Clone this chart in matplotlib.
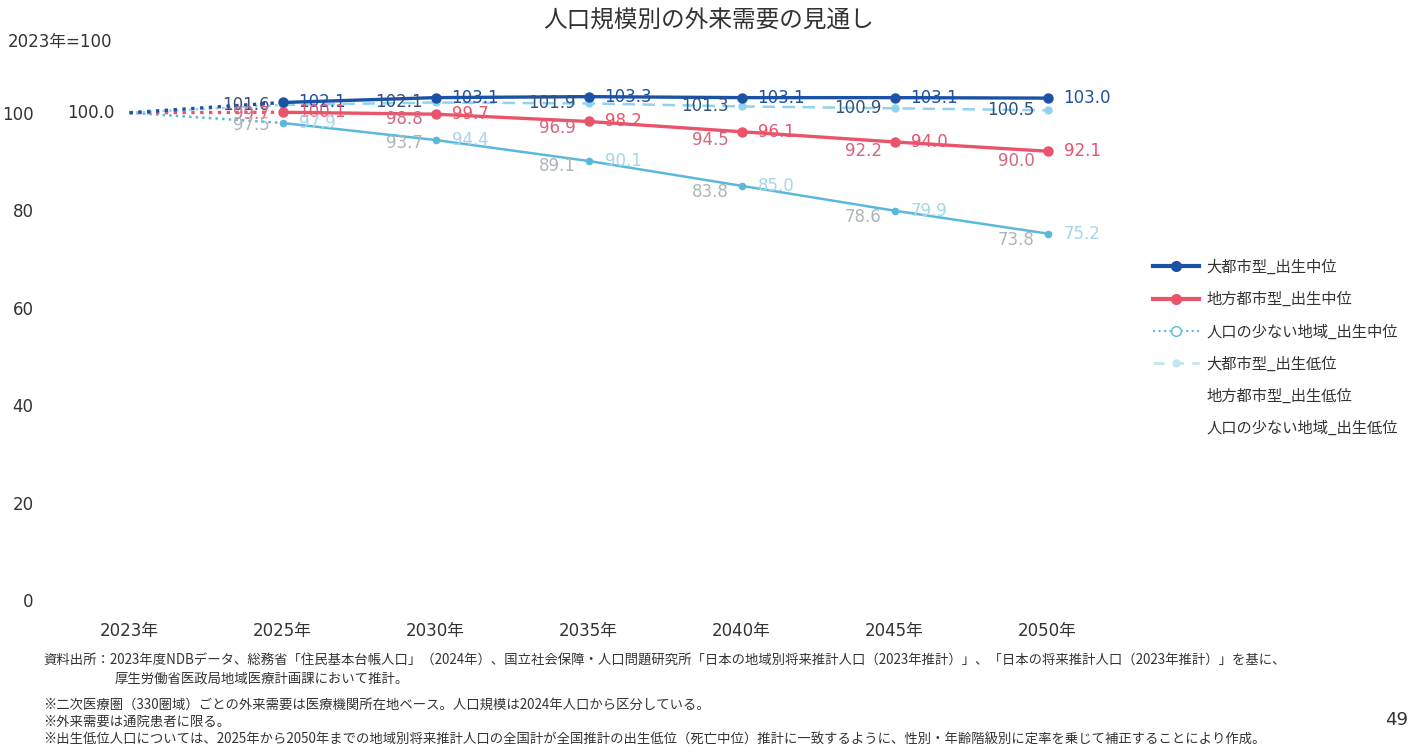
import matplotlib
matplotlib.use("Agg")
import matplotlib.pyplot as plt
from matplotlib.lines import Line2D
from matplotlib.transforms import offset_copy

plt.rcParams['font.family'] = ['DejaVu Sans', 'Noto Sans CJK JP']

years = ['2023年', '2025年', '2030年', '2035年', '2040年', '2045年', '2050年']

# 出生中位
large_mid = [100.0, 102.1, 103.1, 103.3, 103.1, 103.1, 103.0]
local_mid = [100.0, 100.1, 99.7, 98.2, 96.1, 94.0, 92.1]
small_mid = [100.0, 97.9, 94.4, 90.1, 85.0, 79.9, 75.2]
# 出生低位
large_low = [100.0, 101.6, 102.1, 101.9, 101.3, 100.9, 100.5]
local_low = [100.0, 99.7, 98.8, 96.9, 94.5, 92.2, 90.0]
small_low = [100.0, 97.5, 93.7, 89.1, 83.8, 78.6, 73.8]

names = ['大都市型_出生中位', '地方都市型_出生中位', '人口の少ない地域_出生中位',
         '大都市型_出生低位', '地方都市型_出生低位', '人口の少ない地域_出生低位']

BLUE = '#1b52a3'
RED = '#e9546b'
SKY = '#5bb8dd'
PALE = '#8fd3ee'
CJK = ['Noto Sans CJK JP', 'DejaVu Sans']

fig = plt.figure(figsize=(14.18, 7.52), dpi=100)
ax = fig.add_axes([53 / 1418, 1 - 600 / 752, 1071 / 1418, 536 / 752])
x = list(range(len(years)))


def draw(vals, color, lw, ls, ms, mfc=None):
    # 2023→2025 は点線、以降は通常の線
    ax.plot(x[:2], vals[:2], color=color, lw=lw, ls=':')
    ax.plot(x[1:], vals[1:], color=color, lw=lw, ls=ls, marker='o', ms=ms,
            mfc=mfc or color, mec=color)


draw(small_mid, SKY, 1.8, '-', 4.5)
draw(large_low, PALE, 1.8, (0, (5, 3)), 5)
draw(local_mid, RED, 2.4, '-', 6.5)
draw(large_mid, BLUE, 2.4, '-', 6.5)

right = offset_copy(ax.transData, fig=fig, x=16, y=0, units='dots')
left = offset_copy(ax.transData, fig=fig, x=-13, y=0, units='dots')

mid_series = [(large_mid, BLUE), (local_mid, RED), (small_mid, '#a6d6ea')]
low_series = [(large_low, '#34507f'), (local_low, '#d4677d'), (small_low, '#aab6b9')]

for vals, c in mid_series:
    for i in x[1:]:
        ax.text(i, vals[i], f'{vals[i]:.1f}', color=c, fontsize=12,
                ha='left', va='center', transform=right)
for vals, c in low_series:
    for i in x[1:]:
        ax.text(i, vals[i], f'{vals[i]:.1f}', color=c, fontsize=12,
                ha='right', va='center', transform=left)

lft2 = offset_copy(ax.transData, fig=fig, x=-15, y=0, units='dots')
ax.text(0, large_mid[0], f'{large_mid[0]:.1f}', color='#333333', fontsize=12,
        ha='right', va='center', transform=lft2)

ax.set_xlim(-0.5, len(years) - 0.5)
ax.set_ylim(0, 110)
ax.set_yticks([0, 20, 40, 60, 80, 100])
ax.set_xticks(x)
ax.set_xticklabels(years)
ax.tick_params(axis='both', length=0, labelsize=12, colors='#333333')
ax.tick_params(axis='x', pad=16)
ax.tick_params(axis='y', pad=14)
for s in ax.spines.values():
    s.set_visible(False)

handles = [
    Line2D([], [], color=BLUE, lw=3, marker='o', ms=7),
    Line2D([], [], color=RED, lw=3, marker='o', ms=7),
    Line2D([], [], color=SKY, lw=1.5, ls=':', marker='o', ms=7, mfc='white', mec=SKY),
    Line2D([], [], color='#bfe6f2', lw=2, ls=(0, (4, 3)), marker='o', ms=5),
    Line2D([], [], color='white', lw=2),
    Line2D([], [], color='white', lw=2),
]
fig.legend(handles, names, loc='upper left', bbox_to_anchor=(1139 / 1418, 1 - 245 / 752),
           frameon=False, handlelength=3.0, handletextpad=0.5, labelspacing=1.0,
           prop={'family': CJK, 'size': 11}, labelcolor='#333333')

fig.text(0.5, 1 - 21 / 752, '人口規模別の外来需要の見通し', ha='center', va='center',
         fontsize=17, color='#333333', family=CJK)
fig.text(8 / 1418, 1 - 42 / 752, '2023年=100', ha='left', va='center',
         fontsize=12, color='#333333')

notes = [
    (43, 661, '資料出所：2023年度NDBデータ、総務省「住民基本台帳人口」（2024年）、国立社会保障・人口問題研究所「日本の地域別将来推計人口（2023年推計）」、「日本の将来推計人口（2023年推計）」を基に、'),
    (115, 679, '厚生労働省医政局地域医療計画課において推計。'),
    (43, 705, '※二次医療圏（330圏域）ごとの外来需要は医療機関所在地ベース。人口規模は2024年人口から区分している。'),
    (43, 722, '※外来需要は通院患者に限る。'),
    (43, 740, '※出生低位人口については、2025年から2050年までの地域別将来推計人口の全国計が全国推計の出生低位（死亡中位）推計に一致するように、性別・年齢階級別に定率を乗じて補正することにより作成。'),
]
for nx, ny, t in notes:
    fig.text(nx / 1418, 1 - ny / 752, t, ha='left', va='center', fontsize=9.6,
             color='#333333', family=CJK)

fig.text(1385 / 1418, 1 - 720 / 752, '49', ha='left', va='center', fontsize=13,
         color='#333333')

fig.savefig('out.png', dpi=100, facecolor='white')
